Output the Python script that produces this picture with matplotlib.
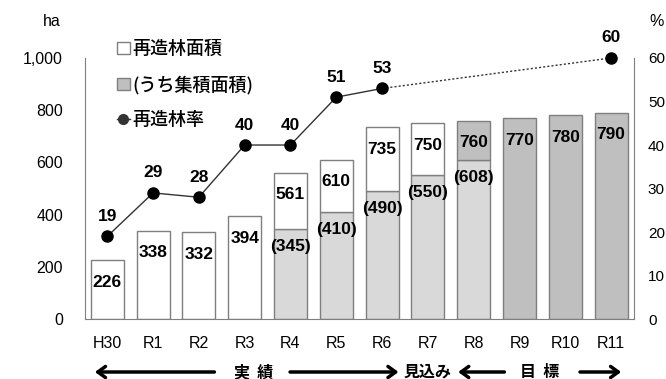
import matplotlib
matplotlib.use('Agg')
import matplotlib.pyplot as plt
import matplotlib.transforms as mtransforms
from matplotlib.patches import Patch
from matplotlib.lines import Line2D
import numpy as np

plt.rcParams['font.family'] = ['Liberation Sans', 'Noto Sans CJK JP', 'DejaVu Sans']

years = ['H30', 'R1', 'R2', 'R3', 'R4', 'R5', 'R6', 'R7', 'R8', 'R9', 'R10', 'R11']
total_area = [226, 338, 332, 394, 561, 610, 735, 750, 760, 770, 780, 790]
cluster_area = [None, None, None, None, 345, 410, 490, 550, 608, None, None, None]
rate_years = ['H30', 'R1', 'R2', 'R3', 'R4', 'R5', 'R6']
rate_values = [19, 29, 28, 40, 40, 51, 53]
target_years = ['R6', 'R11']
target_values = [53, 60]

white = '#ffffff'
light = '#d9d9d9'
dark = '#bfbfbf'
edge = '#7f7f7f'

fig = plt.figure(figsize=(6.66, 3.79), dpi=100)
ax = fig.add_axes([0.128, 0.158, 0.824, 0.689])
ax2 = ax.twinx()

x = np.arange(len(years))
w = 0.72
for i, (tot, sub) in enumerate(zip(total_area, cluster_area)):
    if i >= 9:
        ax.bar(i, tot, w, color=dark, edgecolor=edge, linewidth=1, zorder=2)
    elif i == 8:
        ax.bar(i, sub, w, color=light, edgecolor=edge, linewidth=1, zorder=2)
        ax.bar(i, tot - sub, w, bottom=sub, color=dark, edgecolor=edge, linewidth=1, zorder=2)
    elif sub is not None:
        ax.bar(i, sub, w, color=light, edgecolor=edge, linewidth=1, zorder=2)
        ax.bar(i, tot - sub, w, bottom=sub, color=white, edgecolor=edge, linewidth=1, zorder=2)
    else:
        ax.bar(i, tot, w, color=white, edgecolor=edge, linewidth=1, zorder=2)

    ax.annotate(f'{tot}', (i, tot), xytext=(0, -22), textcoords='offset pixels',
                ha='center', va='center', fontsize=12.5, fontweight='bold', zorder=5)
    if sub is not None:
        ax.annotate(f'({sub})', (i, sub), xytext=(0, -17), textcoords='offset pixels',
                    ha='center', va='center', fontsize=12.5, fontweight='bold', zorder=5)

ax.set_xlim(-0.48, 11.5)
ax.set_ylim(0, 1000)
ax.set_yticks(range(0, 1001, 200))
ax.set_yticklabels(['0', '200', '400', '600', '800', '1,000'])
ax.set_xticks(x)
ax.set_xticklabels(years)
ax.tick_params(axis='x', length=0, labelsize=11.5, pad=12)
ax.tick_params(axis='y', length=0, labelsize=11.5, pad=16)
for s in ['top', 'right']:
    ax.spines[s].set_visible(False)
for s in ['left', 'bottom']:
    ax.spines[s].set_color(edge)

# rate line on right axis
ax2.set_ylim(0, 60)
ax2.set_yticks(range(0, 61, 10))
ax2.tick_params(axis='y', length=0, labelsize=11, pad=10)
for s in ['top', 'left', 'bottom']:
    ax2.spines[s].set_visible(False)
ax2.spines['right'].set_color(edge)

rx = [years.index(y) for y in rate_years]
tx = [years.index(y) for y in target_years]
ax2.plot(tx, target_values, color='#333333', linestyle=(0, (1.5, 1.5)), linewidth=1, zorder=3)
ax2.plot(rx, rate_values, color='#333333', linewidth=1, zorder=3)
ax2.plot(rx + tx[1:], rate_values + target_values[1:], 'o', color='black', markersize=8,
         linestyle='none', zorder=4, clip_on=False)
for xi, v in zip(rx + tx[1:], rate_values + target_values[1:]):
    ax2.annotate(f'{v}', (xi, v), xytext=(0, 20), textcoords='offset pixels',
                 ha='center', va='center', fontsize=12.5, fontweight='bold', annotation_clip=False)

# axis units
fig.text(52 / 666, 1 - 22 / 379, 'ha', ha='center', va='center', fontsize=11.5)
fig.text(657 / 666, 1 - 22 / 379, '%', ha='center', va='center', fontsize=11.5)

# legend
handles = [Patch(facecolor=white, edgecolor=edge, linewidth=1),
           Patch(facecolor=dark, edgecolor=edge, linewidth=1),
           Line2D([], [], color='#333333', marker='o', markersize=7, linewidth=1)]
labels = ['再造林面積', '(うち集積面積)', '再造林率']
leg = ax.legend(handles, labels, loc='upper left', bbox_to_anchor=(0.058, 1.068),
                frameon=False, handlelength=0.7, handleheight=0.6,
                handletextpad=0.15, labelspacing=0.95, borderaxespad=0, borderpad=0,
                prop={'family': ['Noto Sans CJK JP'], 'size': 13, 'weight': 'medium'})

# period arrows under the axis
tr = mtransforms.blended_transform_factory(ax.transData, fig.transFigure)
ya = 1 - 372 / 379
arrows = [(2.4, -0.33), (3.93, 6.42), (8.73, 7.6), (10.26, 11.28)]
for x0, x1 in arrows:
    ax.annotate('', xy=(x1, ya), xytext=(x0, ya), xycoords=tr, textcoords=tr,
                arrowprops=dict(arrowstyle='->,head_length=0.55,head_width=0.4',
                                color='black', linewidth=2.5), annotation_clip=False)
for xc, txt in [(3.19, '実  績'), (6.99, '見込み'), (9.45, '目  標')]:
    ax.text(xc, ya, txt, transform=tr, ha='center', va='center', fontsize=11.5,
            fontweight='bold', family=['Noto Sans CJK JP'])

fig.savefig('out.png', dpi=100)
